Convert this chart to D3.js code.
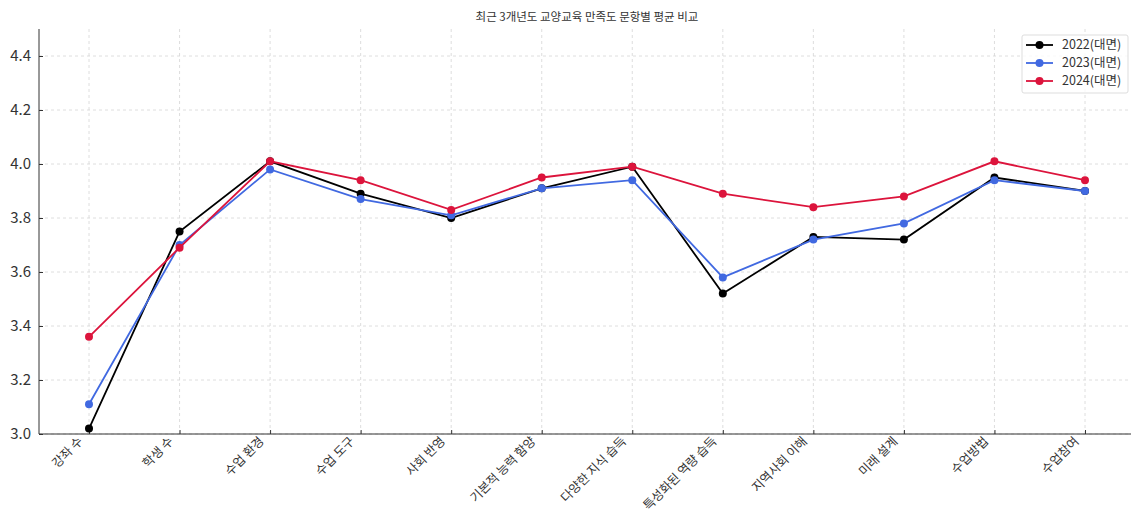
<!DOCTYPE html>
<html>
<head>
<meta charset="utf-8">
<script src="https://cdn.jsdelivr.net/npm/d3@7"></script>
<style>
  body { margin: 0; background: #fff; }
  text { font-family: "Noto Sans CJK KR", "Noto Sans", sans-serif; }
</style>
</head>
<body>
<svg id="chart" width="1131" height="515"></svg>
<script>
const categories = ["강좌 수", "학생 수", "수업 환경", "수업 도구", "사회 반영", "기본적 능력 함양",
  "다양한 지식 습득", "특성화된 역량 습득", "지역사회 이해", "미래 설계", "수업방법", "수업참여"];
const values2022 = [3.02, 3.75, 4.01, 3.89, 3.80, 3.91, 3.99, 3.52, 3.73, 3.72, 3.95, 3.90];
const values2023 = [3.11, 3.70, 3.98, 3.87, 3.81, 3.91, 3.94, 3.58, 3.72, 3.78, 3.94, 3.90];
const values2024 = [3.36, 3.69, 4.01, 3.94, 3.83, 3.95, 3.99, 3.89, 3.84, 3.88, 4.01, 3.94];
const yTicks = [3.0, 3.2, 3.4, 3.6, 3.8, 4.0, 4.2, 4.4];

const series = [
  {name: "2022(대면)", color: "#000000", values: values2022},
  {name: "2023(대면)", color: "#4169e1", values: values2023},
  {name: "2024(대면)", color: "#dc143c", values: values2024}
];

const svg = d3.select("#chart");
const plotLeft = 39, plotRight = 1135, plotTop = 29, plotBottom = 434;

// matplotlib style margins on a point scale
const x = d3.scalePoint().domain(categories).range([89, 1085]);
const y = d3.scaleLinear().domain([3.0, 4.5]).range([plotBottom, plotTop]);

svg.append("text")
  .attr("x", (plotLeft + plotRight) / 2).attr("y", 21)
  .attr("text-anchor", "middle")
  .attr("font-size", 11.5).attr("fill", "#333")
  .text("최근 3개년도 교양교육 만족도 문항별 평균 비교");

// grid
const grid = svg.append("g").attr("stroke", "#d6d6d6").attr("stroke-dasharray", "3,3").attr("stroke-width", 0.8);
grid.selectAll(".gy").data(yTicks).enter().append("line")
  .attr("x1", plotLeft).attr("x2", plotRight).attr("y1", d => y(d)).attr("y2", d => y(d));
grid.selectAll(".gx").data(categories).enter().append("line")
  .attr("x1", d => x(d)).attr("x2", d => x(d)).attr("y1", plotTop).attr("y2", plotBottom);

// axes
const yAxis = svg.append("g").attr("transform", `translate(${plotLeft},0)`)
  .call(d3.axisLeft(y).tickValues(yTicks).tickFormat(d3.format(".1f")).tickSizeInner(-4).tickSizeOuter(0).tickPadding(8));
yAxis.select(".domain").attr("stroke", "#333").attr("d", `M0,${plotTop}V${plotBottom}`);
yAxis.selectAll("text").attr("font-size", 15).attr("fill", "#333");
yAxis.selectAll(".tick line").attr("stroke", "#333");

const xAxis = svg.append("g").attr("transform", `translate(0,${plotBottom})`)
  .call(d3.axisBottom(x).tickSizeInner(-4).tickSizeOuter(0).tickPadding(8));
xAxis.select(".domain").attr("stroke", "#333").attr("d", `M${plotLeft},0H${plotRight}`);
xAxis.selectAll(".tick line").attr("stroke", "#333");
xAxis.selectAll("text")
  .attr("font-size", 12.5).attr("fill", "#333")
  .attr("text-anchor", "end")
  .attr("x", 0).attr("y", 0)
  .attr("dy", "0.35em")
  .attr("transform", "translate(-9,5) rotate(-45)");

// lines
const line = d3.line().x((d, i) => x(categories[i])).y(d => y(d));
series.forEach(s => {
  const g = svg.append("g");
  g.append("path").datum(s.values)
    .attr("d", line).attr("fill", "none")
    .attr("stroke", s.color).attr("stroke-width", 1.8);
  g.selectAll("circle").data(s.values).enter().append("circle")
    .attr("cx", (d, i) => x(categories[i])).attr("cy", d => y(d))
    .attr("r", 4).attr("fill", s.color);
});

// legend
const lg = svg.append("g").attr("transform", "translate(1022,35)");
lg.append("rect").attr("width", 106).attr("height", 58).attr("rx", 2)
  .attr("fill", "#fff").attr("fill-opacity", 0.8).attr("stroke", "#ddd");
series.forEach((s, i) => {
  const yy = 10 + i * 18;
  lg.append("line").attr("x1", 4).attr("x2", 31).attr("y1", yy).attr("y2", yy)
    .attr("stroke", s.color).attr("stroke-width", 1.8);
  lg.append("circle").attr("cx", 17.5).attr("cy", yy).attr("r", 4).attr("fill", s.color);
  lg.append("text").attr("x", 40).attr("y", yy).attr("dy", "0.35em")
    .attr("font-size", 12.5).attr("fill", "#333").text(s.name);
});
</script>
</body>
</html>
